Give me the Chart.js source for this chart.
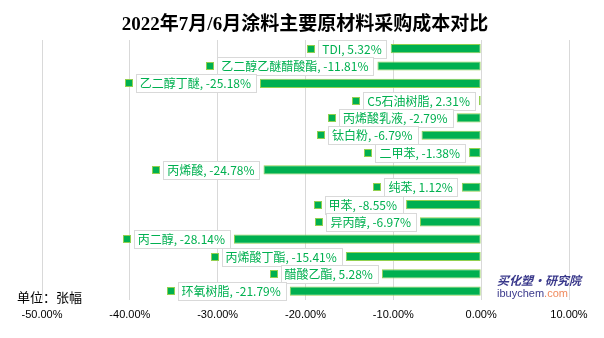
<!DOCTYPE html>
<html>
<head>
<meta charset="utf-8">
<script src="https://cdn.jsdelivr.net/npm/chart.js@4"></script>
<style>
  html, body { margin: 0; padding: 0; background: #ffffff; }
  #wrap { width: 604px; height: 338px; position: relative; }
</style>
</head>
<body>
<div id="wrap"><canvas id="costChart"></canvas></div>
<script>
// Categories, top to bottom
const categories = ['TDI', '乙二醇乙醚醋酸酯', '乙二醇丁醚', 'C5石油树脂', '丙烯酸乳液', '钛白粉', '二甲苯',
    '丙烯酸', '纯苯', '甲苯', '异丙醇', '丙二醇', '丙烯酸丁酯', '醋酸乙酯', '环氧树脂'];

// Bar lengths as drawn (percent)
const barValues = [-10.3, -11.81, -25.18, -0.25, -2.79, -6.79, -1.38,
    -24.78, -2.2, -8.55, -6.97, -28.14, -15.41, -11.3, -21.79];

// Values printed in the data labels (percent)
const labelValues = [5.32, -11.81, -25.18, 2.31, -2.79, -6.79, -1.38,
    -24.78, 1.12, -8.55, -6.97, -28.14, -15.41, 5.28, -21.79];

// X axis ticks (percent)
const xTicks = [-50, -40, -30, -20, -10, 0, 10];

const GREEN = '#00B050';
const GREEN_EDGE = '#92D050';
const GRID = '#D9D9D9';

// Title, unit note and watermark
const decorPlugin = {
    id: 'decor',
    afterDraw(chart) {
        const ctx = chart.ctx;
        ctx.save();
        ctx.fillStyle = '#000';
        ctx.textAlign = 'center';
        ctx.textBaseline = 'middle';
        ctx.font = "bold 19px 'Liberation Serif', 'Noto Sans CJK SC'";
        ctx.fillText('2022年7月/6月涂料主要原材料采购成本对比', 305, 25);

        ctx.textAlign = 'left';
        ctx.font = "13px 'Noto Sans CJK SC'";
        ctx.fillText('单位：张幅', 17, 297);

        ctx.font = "italic bold 12px 'Noto Sans CJK SC'";
        ctx.fillStyle = '#3B3A8C';
        ctx.fillText('买化塑·研究院', 497, 280);
        ctx.font = "11px 'Liberation Sans'";
        const w = ctx.measureText('ibuychem').width;
        ctx.fillText('ibuychem', 497, 294);
        ctx.fillStyle = '#F08A5D';
        ctx.fillText('.com', 497 + w, 294);
        ctx.restore();
    }
};

// Excel-style data labels: boxed text with a legend key, left of each bar
const barLabelPlugin = {
    id: 'barLabels',
    afterDatasetsDraw(chart) {
        const ctx = chart.ctx;
        const meta = chart.getDatasetMeta(0);
        ctx.save();
        ctx.font = "12px 'Noto Sans CJK SC'";
        ctx.textBaseline = 'middle';
        meta.data.forEach((bar, i) => {
            const text = categories[i] + ', ' + labelValues[i].toFixed(2) + '%';
            const tw = ctx.measureText(text).width;
            const barLeft = Math.min(bar.x, bar.base);
            const boxW = tw + 9;
            const boxH = 18;
            const boxR = barLeft - 4;
            const boxL = boxR - boxW;
            const boxT = bar.y - boxH / 2;

            ctx.fillStyle = '#fff';
            ctx.fillRect(Math.round(boxL) + 0.5, Math.round(boxT) + 0.5, Math.round(boxW), boxH);
            ctx.strokeStyle = GRID;
            ctx.lineWidth = 1;
            ctx.strokeRect(Math.round(boxL) + 0.5, Math.round(boxT) + 0.5, Math.round(boxW), boxH);

            ctx.fillStyle = GREEN;
            ctx.textAlign = 'left';
            ctx.fillText(text, boxL + 4, bar.y + 0.5);

            // legend key
            const mx = Math.round(boxL) - 10;
            const my = Math.round(bar.y) - 3;
            ctx.fillStyle = GREEN;
            ctx.fillRect(mx, my, 6, 6);
            ctx.strokeStyle = GREEN_EDGE;
            ctx.strokeRect(mx - 0.5, my - 0.5, 7, 7);
        });
        ctx.restore();
    }
};

const ctx = document.getElementById('costChart').getContext('2d');
const costChart = new Chart(ctx, {
    type: 'bar',
    data: {
        labels: categories,
        datasets: [{
            data: barValues.map(v => v / 100),
            backgroundColor: GREEN,
            borderColor: GREEN_EDGE,
            borderWidth: 1,
            borderSkipped: false,
            categoryPercentage: 1,
            barPercentage: 0.53
        }]
    },
    options: {
        indexAxis: 'y',
        responsive: true,
        maintainAspectRatio: false,
        animation: false,
        layout: {
            padding: { left: 42, right: 35, top: 40, bottom: 7 }
        },
        plugins: {
            legend: { display: false },
            tooltip: { enabled: false },
            title: { display: false }
        },
        scales: {
            x: {
                min: xTicks[0] / 100,
                max: xTicks[xTicks.length - 1] / 100,
                afterBuildTicks(axis) {
                    axis.ticks = xTicks.map(v => ({ value: v / 100 }));
                },
                grid: {
                    color: GRID,
                    lineWidth: 1,
                    drawTicks: false
                },
                border: { display: false },
                ticks: {
                    padding: 9,
                    color: '#000',
                    font: { family: "'Liberation Sans'", size: 11 },
                    maxRotation: 0,
                    callback: function(value) {
                        return (value * 100).toFixed(2) + '%';
                    }
                }
            },
            y: {
                display: false
            }
        }
    },
    plugins: [barLabelPlugin, decorPlugin]
});
</script>
</body>
</html>
